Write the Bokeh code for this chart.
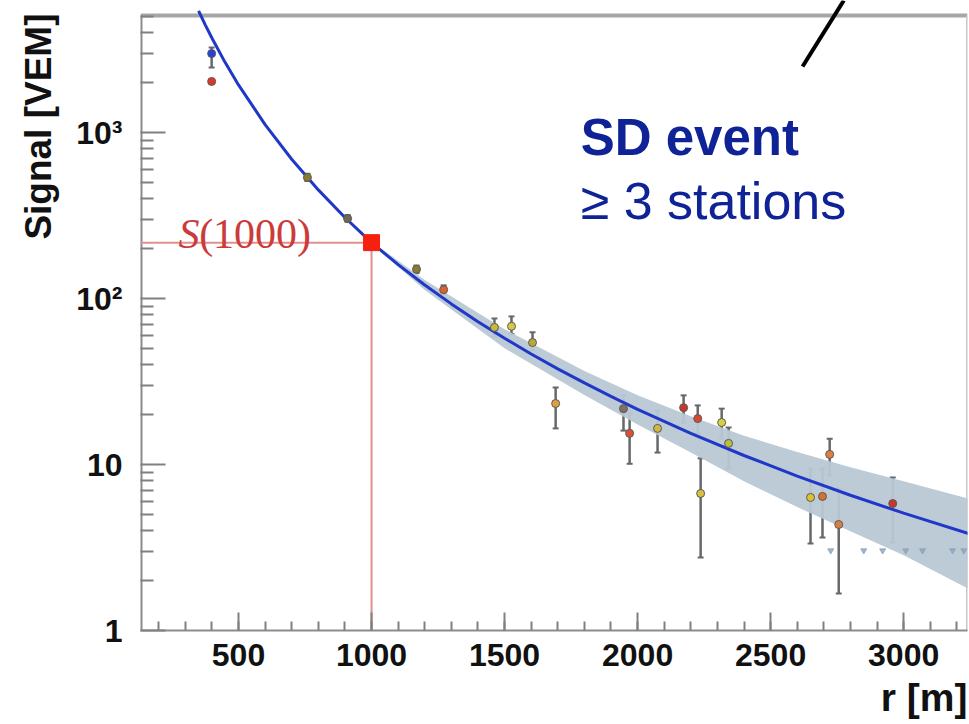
from bokeh.plotting import figure
from bokeh.models import (FixedTicker, Label, Whisker, TeeHead, Title,
                          ColumnDataSource, Range1d)
from bokeh.embed import file_html
from bokeh.resources import INLINE

# ---------------- data ----------------
# station signals (r [m], signal [VEM], error low, error high, colour)
st_r = [399, 399, 759, 910, 1169, 1271, 1462, 1526, 1605, 1692, 1947, 1970,
        2075, 2173, 2226, 2237, 2316, 2342, 2650, 2695, 2722, 2756, 2959]
st_s = [2990, 2030, 536, 303, 150, 113, 67.0, 68.0, 54.3, 23.3, 21.7, 15.4,
        16.5, 22.0, 18.9, 6.69, 17.9, 13.4, 6.33, 6.42, 11.5, 4.35, 5.82]
st_lo = [2465, 2030, 510, 290, 142, 106, 59.0, 61.0, 48.7, 16.5, 16.0, 10.1,
         11.8, 17.9, 15.4, 2.75, 14.3, 9.46, 3.34, 3.63, 8.59, 1.67, 3.39]
st_hi = [3250, 2030, 565, 318, 158, 120, 75.8, 78.0, 62.6, 29.1, 26.1, 20.3,
         21.1, 26.1, 22.7, 10.9, 21.7, 16.7, 9.46, 9.46, 14.3, 7.17, 8.35]
st_col = ["#2a3fd8", "#d83a2a", "#8c7a30", "#706850", "#8c7a30", "#e0602a",
          "#c8b840", "#d8c848", "#b8a838", "#e0a040", "#807060", "#e05030",
          "#d0b840", "#c83828", "#d84830", "#d8c040", "#d8d040", "#b8c040",
          "#e0c030", "#d87030", "#e08040", "#d88040", "#c83828"]

# silent stations (upper limits)
ul_r = [2726, 2850, 2921, 3008, 3071, 3184, 3226]
ul_s = [3.03, 3.03, 3.03, 3.03, 3.03, 3.03, 3.03]

# fitted lateral distribution function
fit_r = [350, 375, 400, 450, 500, 600, 700, 800, 900, 1000, 1100, 1200, 1300,
         1400, 1500, 1600, 1700, 1800, 1900, 2000, 2200, 2400, 2600, 2800,
         3000, 3250]
fit_s = [5410, 4450, 3710, 2637, 1934, 1115, 690, 451, 307.5, 217, 160, 120.6,
         92.8, 72.5, 57.6, 46.3, 37.7, 31.0, 25.7, 21.5, 15.4, 11.33, 8.52,
         6.53, 5.09, 3.81]

# uncertainty band of the fit
band_r = [1000, 1200, 1500, 1800, 2000, 2200, 2400, 2600, 2800, 3000, 3250]
band_hi = [220, 129.1, 65.3, 36.6, 26.1, 19.5, 14.9, 11.9, 9.62, 7.94, 6.19]
band_lo = [214, 112.6, 50.1, 26.2, 17.4, 11.8, 7.92, 5.54, 3.96, 2.84, 1.76]

# S(1000)
R_REF = 1000
S_REF = 217

# pointer line of the "SD event" callout
ptr_r = [2620, 2775]
ptr_s = [2500, 6240]

x_ticks = [500, 1000, 1500, 2000, 2500, 3000]
x_minor = list(range(200, 3300, 100))
y_ticks = [1, 10, 100, 1000]
y_labels = {1: "1", 10: "10", 100: "10\u00b2", 1000: "10\u00b3"}
y_minor = [2, 3, 4, 5, 6, 7, 8, 9, 20, 30, 40, 50, 60, 70, 80, 90,
           200, 300, 400, 500, 600, 700, 800, 900, 2000, 3000, 4000, 5000]

X0, X1 = 131.6, 3240
Y0, Y_TOP, Y_CANVAS = 1, 5070, 6240

# ---------------- figure ----------------
p = figure(width=969, height=724, x_range=Range1d(X0, X1),
           y_range=Range1d(Y0, Y_CANVAS),
           y_axis_type="log", output_backend="svg", toolbar_location=None,
           min_border_left=140, min_border_right=2, min_border_top=0,
           min_border_bottom=94)
p.xgrid.visible = False
p.ygrid.visible = False
p.outline_line_color = None
p.background_fill_color = "white"
p.border_fill_color = "white"

for ax in (p.xaxis[0], p.yaxis[0]):
    ax.axis_line_color = "#8c8c8c"
    ax.axis_line_width = 2
    ax.major_tick_line_color = "#808080"
    ax.minor_tick_line_color = "#808080"
    ax.major_tick_line_width = 2
    ax.minor_tick_line_width = 2
    ax.major_tick_out = 0
    ax.minor_tick_out = 0
    ax.major_label_text_font = "Liberation Sans"
    ax.major_label_text_font_style = "bold"
    ax.major_label_text_font_size = "32px"
    ax.major_label_text_color = "#111111"

p.xaxis.ticker = FixedTicker(ticks=x_ticks, minor_ticks=x_minor)
p.xaxis.major_tick_in = 18
p.xaxis.minor_tick_in = 9
p.xaxis.major_label_standoff = 13
p.xaxis.major_label_text_line_height = 0.7

p.yaxis.ticker = FixedTicker(ticks=y_ticks, minor_ticks=y_minor)
p.yaxis.major_label_overrides = y_labels
p.yaxis.major_tick_in = 25
p.yaxis.minor_tick_in = 13
p.yaxis.major_label_standoff = 18
p.yaxis.axis_line_color = None

# frame drawn as lines (the frame's top lies below the canvas top)
p.line([X0, X1], [Y_TOP, Y_TOP], line_color="#a6a6a6", line_width=4)
p.line([X0, X0], [Y0, Y_TOP], line_color="#8c8c8c", line_width=4)
p.line([X1, X1], [Y0, Y_TOP], line_color="#c8c8c8", line_width=3)

# band
p.varea(x=band_r, y1=band_lo, y2=band_hi, fill_color="#b9c8d4", fill_alpha=0.95)

# S(1000) guide lines
p.line([X0, R_REF], [S_REF, S_REF], line_color="#e09090", line_width=2)
p.line([R_REF, R_REF], [S_REF, Y0], line_color="#e09090", line_width=2)

# fit line
p.line(fit_r, fit_s, line_color="#2038c8", line_width=3)

# error bars
src = ColumnDataSource(dict(r=st_r, s=st_s, lo=st_lo, hi=st_hi, c=st_col))
wh = Whisker(base="r", lower="lo", upper="hi", source=src,
             line_color="#65696c", line_width=2.5,
             upper_head=TeeHead(size=6, line_color="#65696c", line_width=2),
             lower_head=TeeHead(size=6, line_color="#65696c", line_width=2))
p.add_layout(wh)

# station markers
p.scatter("r", "s", source=src, size=8, fill_color="c", line_color="#5a5a5a",
          line_width=1)

# silent stations
p.scatter(ul_r, ul_s, marker="inverted_triangle", size=6, fill_color="#8aa2bb",
          line_color="#8aa2bb", alpha=0.8)

# S(1000) marker
p.scatter([R_REF], [S_REF], marker="square", size=16, fill_color="#f52010",
          line_color="#f52010")

# S(1000) label
p.add_layout(Label(x=274, y=246, text="S", text_font="Liberation Serif",
                   text_font_style="italic", text_font_size="42px",
                   text_color="#cc3a3a", text_baseline="alphabetic"))
p.add_layout(Label(x=352, y=246, text="(1000)", text_font="Liberation Serif",
                   text_font_size="42px", text_color="#cc3a3a",
                   text_baseline="alphabetic"))

# annotation texts
p.add_layout(Label(x=1786, y=933, text="SD event", text_font="Liberation Sans",
                   text_font_style="bold", text_font_size="51px",
                   text_color="#0f2396", text_baseline="alphabetic"))
p.add_layout(Label(x=1786, y=389, text="\u2265 3 stations", text_font="Liberation Sans",
                   text_font_size="52px", text_color="#0f2396",
                   text_baseline="alphabetic"))

# pointer line
p.line(ptr_r, ptr_s, line_color="black", line_width=4)

# axis titles
p.add_layout(Title(text="Signal [VEM]", align="right", offset=13, standoff=29,
                   text_font="Liberation Sans", text_font_style="bold",
                   text_font_size="37px", text_line_height=1.0,
                   text_color="#111111"), "left")
p.add_layout(Title(text="r [m]", align="right", standoff=11,
                   text_font="Liberation Sans", text_font_style="bold",
                   text_font_size="39px", text_line_height=1.0,
                   text_color="#111111"), "below")

open("out.html", "w").write(file_html(p, INLINE))
